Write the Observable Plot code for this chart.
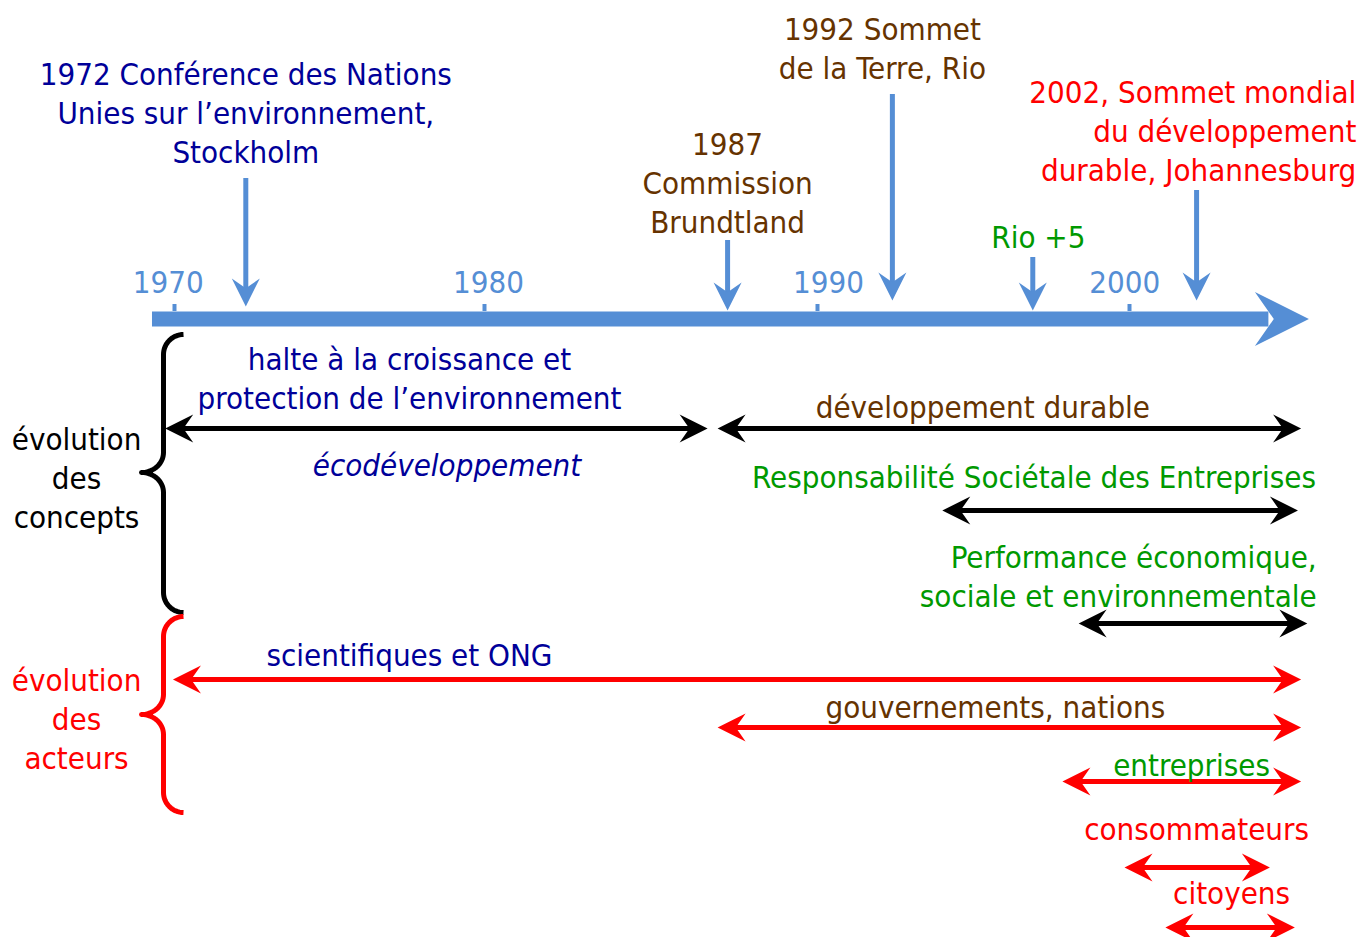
<!DOCTYPE html>
<html><head><meta charset="utf-8">
<script src="https://cdn.jsdelivr.net/npm/d3@7"></script>
<script src="https://cdn.jsdelivr.net/npm/@observablehq/plot@0.6"></script>
<style>html,body{margin:0;padding:0;background:#fff} svg{display:block}</style>
</head><body><div id="chart"></div>
<script>
// ---------- DATA ----------
const tickYears = [1970, 1980, 1990, 2000];
const tickLabels = ["1970", "1980", "1990", "2000"];
const tickLabelYears = [1969.8, 1980.12, 1990.35, 1999.85];

const eventLabels = [
  "1972 Conférence des Nations\nUnies sur l’environnement,\nStockholm",
  "1987\nCommission\nBrundtland",
  "1992 Sommet\nde la Terre, Rio",
  "Rio +5",
  "2002, Sommet mondial\ndu développement\ndurable, Johannesburg"
];
const eventYears = [1972.3, 1987.3, 1992.4, 1996.9, 2002.15];
const eventLabelYears = [1972.3, 1987.3, 1992.08, 1997.08, 2007.27];

const conceptLabels = [
  "halte à la croissance et\nprotection de l’environnement",
  "développement durable",
  "Responsabilité Sociétale des Entreprises",
  "Performance économique,\nsociale et environnementale"
];
const conceptStart = [1969.7, 1987.0, 1994.0, 1998.37];
const conceptEnd = [1986.7, 2005.5, 2005.4, 2005.7];
const conceptLabelYears = [1977.58, 1995.3, 1996.94, 2006.0];
const ecoLabel = "écodéveloppement";
const ecoYear = 1978.79;

const actorLabels = ["scientifiques et ONG", "gouvernements, nations", "entreprises", "consommateurs", "citoyens"];
const actorStart = [1969.95, 1987.0, 1997.85, 1999.84, 2001.15];
const actorEnd = [2005.5, 2005.5, 2005.5, 2004.5, 2005.3];
const actorLabelYears = [1977.58, 1995.7, 2001.99, 2002.15, 2003.27];

const groupLabels = ["évolution\ndes\nconcepts", "évolution\ndes\nacteurs"];
const groupYear = 1966.84;
const axisStart = 1969.29, axisEnd = 2005.75, braceYear = 1969.645;

// ---------- LAYOUT (rows, px) ----------
const tickPx = [174, 484, 817, 1129];
const axisRow = 318.5, tickTop = 304, tickBottom = 311, tickLabelRow = 284;
const eventLabelRows = [113, 183, 48, 237, 131];
const eventTopRows = [178, 240, 94, 257, 190];
const eventTipRows = [306, 310, 300, 310, 300];
const eventAnchors = ["middle", "middle", "middle", "middle", "end"];
const conceptArrowRows = [428, 428, 510, 623];
const conceptLabelRows = [378.5, 407, 477, 576.5];
const conceptAnchors = ["middle", "middle", "middle", "end"];
const ecoRow = 467;
const actorArrowRows = [679, 727, 781, 867, 927];
const actorLabelRows = [655, 707, 765, 829, 893];
const groupRows = [478, 719];
const braceRows = [[334, 472, 612], [616, 714, 812]];

// ---------- STYLE ----------
const navy = "#000099", brown = "#663300", green = "#009900", red = "#ff0000", blue = "#558ed5", black = "#000000";
const eventColors = [navy, brown, brown, green, red];
const conceptColors = [navy, brown, green, green];
const actorColors = [navy, brown, green, red, red];
const groupColors = [black, red];
const FONT = "'DejaVu Sans Condensed', 'Liberation Sans', sans-serif";
const FS = 31, LH = 39 / 31, DY = -1.5;

// ---------- TABLES ----------
const events = eventLabels.map((label, i) => ({label, year: eventYears[i], lx: eventLabelYears[i], ly: eventLabelRows[i], top: eventTopRows[i], tip: eventTipRows[i], anchor: eventAnchors[i], color: eventColors[i]}));
const concepts = conceptLabels.map((label, i) => ({label, start: conceptStart[i], end: conceptEnd[i], lx: conceptLabelYears[i], ly: conceptLabelRows[i], y: conceptArrowRows[i], anchor: conceptAnchors[i], color: conceptColors[i]}));
const actors = actorLabels.map((label, i) => ({label, start: actorStart[i], end: actorEnd[i], lx: actorLabelYears[i], ly: actorLabelRows[i], y: actorArrowRows[i], anchor: "middle", color: actorColors[i]}));
const groups = groupLabels.map((label, i) => ({label, x: groupYear, y: groupRows[i], color: groupColors[i]}));
const ticks = tickYears.map((year, i) => ({year, label: tickLabels[i], lx: tickLabelYears[i]}));

const pxPerYear = (tickPx[1] - tickPx[0]) / (tickYears[1] - tickYears[0]);
function bracePoints(rows, id, color) {
  const [top, mid, bottom] = rows, R = 20, pts = [];
  const arc = (cx, cy, rx, ry, a0, a1) => {
    for (let k = 0; k <= 16; k++) {
      const a = a0 + (a1 - a0) * k / 16;
      pts.push({x: braceYear + (cx + rx * Math.cos(a)) / pxPerYear, y: cy + ry * Math.sin(a), id, color});
    }
  };
  arc(R, top + R, R, R, -Math.PI / 2, -Math.PI);
  arc(-22, mid - R, 22, R, 0, Math.PI / 2);
  arc(-22, mid + R, 22, R, -Math.PI / 2, 0);
  arc(R, bottom - R, R, R, Math.PI, Math.PI / 2);
  return pts;
}
const braces = [...bracePoints(braceRows[0], "c", black), ...bracePoints(braceRows[1], "a", red)];

const stealth = {
  draw(ctx, size) {
    const r = Math.sqrt(size / Math.PI);
    const L = 2 * r, W = r, N = 0.7 * r;
    ctx.moveTo(0, 0);
    ctx.lineTo(-L, -W);
    ctx.lineTo(-L + N, 0);
    ctx.lineTo(-L, W);
    ctx.closePath();
  }
};

function doubleArrow(data, sw) {
  return [
    Plot.ruleY(data, {y: "y", x1: "start", x2: "end", stroke: "color", strokeWidth: sw, insetLeft: 12, insetRight: 12}),
    Plot.dot(data, {x: "start", y: "y", symbol: stealth, r: 14, rotate: 180, fill: "color", stroke: "none"}),
    Plot.dot(data, {x: "end", y: "y", symbol: stealth, r: 14, rotate: 0, fill: "color", stroke: "none"})
  ];
}
function labelsBy(data) {
  const groupsByAnchor = d3.group(data, d => d.anchor);
  return [...groupsByAnchor].map(([anchor, rows]) => Plot.text(rows, {x: "lx", y: "ly", dy: DY, text: "label", fill: "color", textAnchor: anchor, fontSize: FS, lineHeight: LH, fontFamily: FONT}));
}

const conceptArrowsBlack = concepts.map(d => ({...d, color: black}));
const actorArrowsRed = actors.map(d => ({...d, color: red}));

const chart = Plot.plot({
  width: 1361, height: 937,
  margin: 0,
  style: {background: "white", fontFamily: FONT},
  x: {type: "linear", domain: tickYears, range: tickPx, axis: null},
  y: {type: "linear", domain: [0, 937], range: [0, 937], axis: null},
  color: {type: "identity"},
  marks: [
    // main time axis
    Plot.ruleY([{y: axisRow, x1: axisStart, x2: axisEnd}], {y: "y", x1: "x1", x2: "x2", stroke: blue, strokeWidth: 15, insetRight: 40}),
    Plot.dot([{x: axisEnd, y: axisRow}], {x: "x", y: "y", symbol: stealth, r: 27, fill: blue, stroke: "none"}),
    Plot.ruleX(ticks, {x: "year", y1: tickTop, y2: tickBottom, stroke: blue, strokeWidth: 4}),
    Plot.text(ticks, {x: "lx", y: tickLabelRow, dy: DY, text: "label", fill: blue, fontSize: FS, fontFamily: FONT}),
    // events
    Plot.ruleX(events, {x: "year", y1: "top", y2: "tip", stroke: blue, strokeWidth: 5, insetBottom: 12}),
    Plot.dot(events, {x: "year", y: "tip", symbol: stealth, r: 14, rotate: 90, fill: blue, stroke: "none"}),
    ...labelsBy(events),
    // braces and group labels
    Plot.line(braces, {x: "x", y: "y", z: "id", stroke: "color", strokeWidth: 5, strokeLinecap: "butt"}),
    Plot.text(groups, {x: "x", y: "y", dy: DY, text: "label", fill: "color", fontSize: FS, lineHeight: LH, fontFamily: FONT}),
    // concepts
    ...doubleArrow(conceptArrowsBlack, 5),
    ...labelsBy(concepts),
    Plot.text([{label: ecoLabel, lx: ecoYear, ly: ecoRow}], {x: "lx", y: "ly", dy: DY, text: "label", fill: navy, fontStyle: "italic", fontSize: FS, fontFamily: FONT}),
    // actors
    ...doubleArrow(actorArrowsRed, 5),
    ...labelsBy(actors)
  ]
});
document.getElementById("chart").appendChild(chart);
</script>
</body></html>
